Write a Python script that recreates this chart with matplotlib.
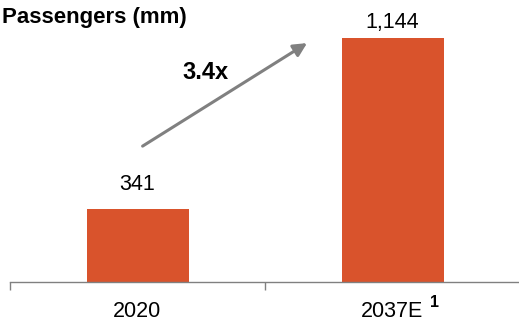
import matplotlib
matplotlib.use("Agg")
import matplotlib.pyplot as plt

plt.rcParams['font.family'] = ['Liberation Sans', 'DejaVu Sans']

categories = ['2020', '2037E']
footnote = '1'
passengers = [341, 1144]
value_labels = ['341', '1,144']
growth_label = '3.4x'

bar_color = '#D9532C'
grey = '#808080'

fig = plt.figure(figsize=(5.19, 3.23), dpi=100)
ax = fig.add_axes([10/519, 1 - 282/323, 510/519, 282/323])

x = list(range(len(categories)))
ax.bar(x, passengers, width=0.4, color=bar_color)
ax.set_xlim(-0.5, 1.5)
ax.set_ylim(0, 1322)

# value labels above bars
ax.annotate(value_labels[0], (x[0], passengers[0]), xytext=(0, 13.7), textcoords='offset points',
            ha='center', va='baseline', fontsize=15.5)
ax.annotate(value_labels[1], (x[1], passengers[1]), xytext=(0, 7.2), textcoords='offset points',
            ha='center', va='baseline', fontsize=15.5)

# growth arrow
ax.annotate('', xy=(0.665, 1120), xytext=(0.02, 637),
            arrowprops=dict(arrowstyle='-|>,head_length=0.8,head_width=0.4', color=grey, lw=2.2,
                            shrinkA=0, shrinkB=0))
ax.text(0.265, 980, growth_label, ha='center', va='center', fontsize=17, fontweight='bold')

for s in ['top', 'right', 'left']:
    ax.spines[s].set_visible(False)
ax.spines['bottom'].set_color(grey)
ax.spines['bottom'].set_linewidth(1)
ax.set_yticks([])
ax.set_xticks(x)
ax.set_xticklabels(categories, fontsize=15.5)
ax.tick_params(axis='x', which='major', length=0, pad=14)
ax.set_xticks([-0.5, 0.5, 1.5], minor=True)
ax.tick_params(axis='x', which='minor', length=6, color=grey, width=1)

# footnote marker after 2037E
ax.annotate(footnote, (x[1], 0), xytext=(27, -14.5), textcoords='offset points',
            ha='left', va='center', fontsize=11.5, fontweight='bold')

fig.text(2/519, 1 - 18/323, 'Passengers (mm)', ha='left', va='center', fontsize=16, fontweight='bold')

fig.savefig('out.png', dpi=100)
